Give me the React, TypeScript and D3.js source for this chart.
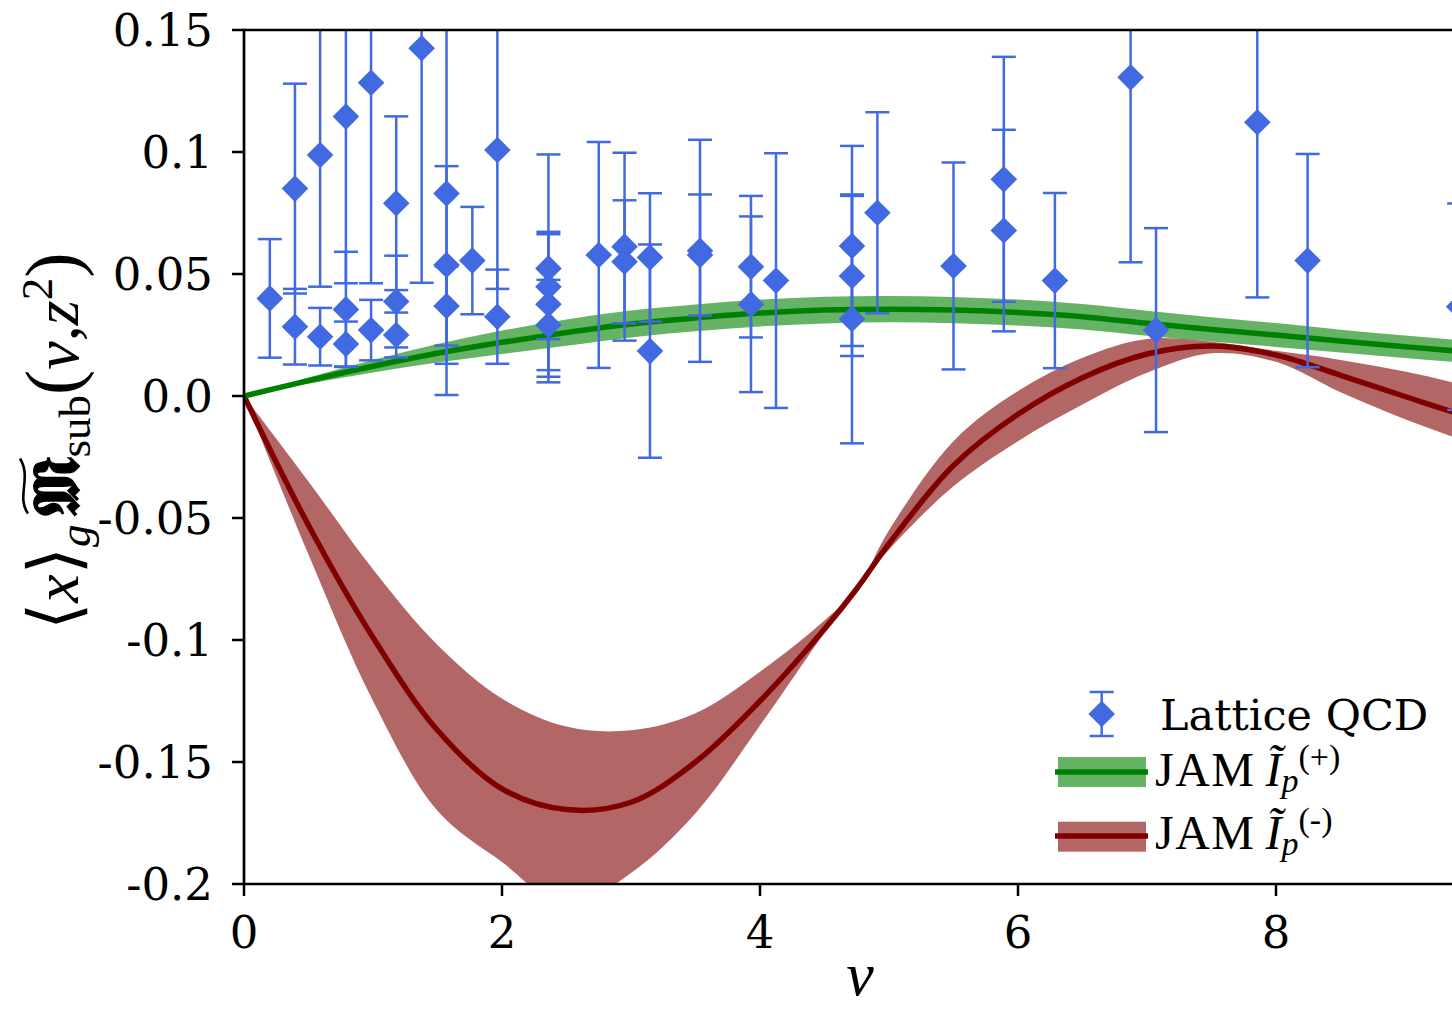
import React, { useLayoutEffect, useRef, useState } from 'react';
import * as d3 from 'd3';

// Lattice QCD points (nu, value, symmetric error)
const latNu = [0.2, 0.395, 0.395, 0.59, 0.59, 0.79, 0.79, 0.79, 0.985, 0.985, 1.18, 1.18, 1.18, 1.377, 1.57, 1.57, 1.57, 1.77, 1.964, 1.964, 2.36, 2.36, 2.36, 2.36, 2.75, 2.95, 2.95, 3.147, 3.147, 3.535, 3.535, 3.93, 3.93, 4.124, 4.713, 4.713, 4.713, 4.91, 5.5, 5.89, 5.89, 6.286, 6.873, 7.07, 7.855, 8.245, 9.42];
const latVal = [0.04, 0.085, 0.0284, 0.0988, 0.0243, 0.1145, 0.0355, 0.0213, 0.1284, 0.027, 0.079, 0.0387, 0.025, 0.1425, 0.083, 0.0537, 0.0369, 0.0555, 0.1008, 0.0325, 0.0523, 0.0448, 0.0376, 0.0291, 0.0578, 0.0612, 0.055, 0.0568, 0.0184, 0.0595, 0.0578, 0.053, 0.0376, 0.0473, 0.0615, 0.0492, 0.0316, 0.0751, 0.0533, 0.0888, 0.0678, 0.0473, 0.1306, 0.027, 0.1122, 0.0555, 0.0366];
const latErr = [0.0243, 0.043, 0.0155, 0.054, 0.0118, 0.0683, 0.0236, 0.0092, 0.0822, 0.0124, 0.0356, 0.0188, 0.0092, 0.0961, 0.0826, 0.0405, 0.0162, 0.022, 0.0569, 0.0193, 0.0467, 0.0215, 0.0297, 0.0185, 0.0463, 0.0385, 0.0252, 0.0263, 0.0437, 0.0455, 0.0248, 0.029, 0.036, 0.0522, 0.041, 0.0328, 0.051, 0.0412, 0.0424, 0.0502, 0.0413, 0.0359, 0.0758, 0.0418, 0.0718, 0.0437, 0.0423];

// JAM I_p^(+) (green)
const plusNu = [0, 0.5, 1, 1.5, 2, 2.5, 3, 3.5, 4, 4.5, 5, 5.5, 6, 6.5, 7, 7.5, 8, 8.5, 9, 9.5, 10];
const plusMid = [0, 0.0063, 0.0122, 0.0175, 0.022, 0.026, 0.0295, 0.032, 0.034, 0.0352, 0.0356, 0.0352, 0.0342, 0.0325, 0.0298, 0.0273, 0.025, 0.0225, 0.0202, 0.018, 0.016];
const plusLo = [0, 0.005, 0.0096, 0.0137, 0.0172, 0.0206, 0.024, 0.0265, 0.0285, 0.0297, 0.0302, 0.0298, 0.0289, 0.0273, 0.0247, 0.0223, 0.0201, 0.0178, 0.0156, 0.0135, 0.0116];
const plusHi = [0, 0.0076, 0.0148, 0.0213, 0.0268, 0.0314, 0.035, 0.0375, 0.0395, 0.0407, 0.041, 0.0406, 0.0395, 0.0377, 0.0349, 0.0323, 0.0299, 0.0272, 0.0248, 0.0225, 0.0204];

// JAM I_p^(-) (dark red)
const minusNu = [0, 0.5, 1, 1.5, 2, 2.5, 3, 3.5, 4, 4.5, 4.75, 5, 5.5, 6, 6.5, 7, 7.5, 8, 8.5, 9, 9.5, 10];
const minusMid = [0, -0.053, -0.099, -0.137, -0.161, -0.1695, -0.1665, -0.15, -0.125, -0.0955, -0.079, -0.0605, -0.0285, -0.0075, 0.0075, 0.0172, 0.0205, 0.0168, 0.0085, -0.0002, -0.0085, -0.015];
const minusHi = [0, -0.035, -0.071, -0.102, -0.124, -0.1355, -0.137, -0.13, -0.113, -0.092, -0.079, -0.055, -0.0185, 0.002, 0.0157, 0.0234, 0.0222, 0.0185, 0.0148, 0.01, 0.004, -0.002];
const minusLo = [0, -0.065, -0.125, -0.17, -0.191, -0.209, -0.1955, -0.171, -0.135, -0.097, -0.079, -0.063, -0.037, -0.0185, -0.0035, 0.0095, 0.0175, 0.014, 0.0015, -0.0095, -0.019, -0.027];

const xTicks = [0, 2, 4, 6, 8];
const xTickLabels = ['0', '2', '4', '6', '8'];
const yTicks = [0.15, 0.1, 0.05, 0, -0.05, -0.1, -0.15, -0.2];
const yTickLabels = ['0.15', '0.1', '0.05', '0.0', '-0.05', '-0.1', '-0.15', '-0.2'];

const BLUE = '#4169E1';
const GREEN = '#008000';
const RED = '#800000';
const SERIF = '"DejaVu Serif", serif';
const MATH = '"Liberation Serif", serif';

export default function App() {
  const W = 1452, H = 1009;
  const L = 244, T = 30, B = 884, R = 1534;
  const x = d3.scaleLinear().domain([0, 10]).range([L, R]);
  const y = d3.scaleLinear().domain([-0.2, 0.15]).range([B, T]);

  const labelRef = useRef<SVGTextElement>(null);
  const [tilde, setTilde] = useState<[number, number]>([121, 181]);
  useLayoutEffect(() => {
    const el = labelRef.current;
    if (!el) return;
    try {
      const s = el.getStartPositionOfChar(4).x;
      const e = el.getEndPositionOfChar(4).x;
      if (isFinite(s) && isFinite(e) && e > s) setTilde([s, e]);
    } catch (err) { /* keep default */ }
  }, []);

  const band = (nu: number[], lo: number[], hi: number[]) =>
    d3.area<number>().x(i => x(nu[i])).y0(i => y(lo[i])).y1(i => y(hi[i])).curve(d3.curveCatmullRom)(d3.range(nu.length)) || '';
  const line = (nu: number[], v: number[]) =>
    d3.line<number>().x(i => x(nu[i])).y(i => y(v[i])).curve(d3.curveCatmullRom)(d3.range(nu.length)) || '';

  const dia = 13.3;
  const capW = 12;
  const diamond = (cx: number, cy: number) => `M${cx},${cy - dia}L${cx + dia},${cy}L${cx},${cy + dia}L${cx - dia},${cy}Z`;

  const t0 = tilde[0] + 3, t1 = tilde[1] - 1, tw = t1 - t0;

  return (
    <svg width={W} height={H} style={{ position: 'absolute', left: 0, top: 0, background: '#fff' }}>
      <defs>
        <clipPath id="plotclip">
          <rect x={L} y={T} width={R - L} height={B - T} />
        </clipPath>
      </defs>
      <rect x={0} y={0} width={W} height={H} fill="#fff" />
      <g clipPath="url(#plotclip)">
        <path d={band(minusNu, minusLo, minusHi)} fill={RED} fillOpacity={0.6} />
        <path d={band(plusNu, plusLo, plusHi)} fill={GREEN} fillOpacity={0.6} />
        <path d={line(minusNu, minusMid)} fill="none" stroke={RED} strokeWidth={5.5} />
        <path d={line(plusNu, plusMid)} fill="none" stroke={GREEN} strokeWidth={5.5} />
        {latNu.map((n, i) => {
          const cx = x(n);
          const y1 = y(latVal[i] + latErr[i]);
          const y0 = y(latVal[i] - latErr[i]);
          return (
            <g key={i}>
              <line x1={cx} x2={cx} y1={y1} y2={y0} stroke={BLUE} strokeWidth={2.5} />
              <line x1={cx - capW} x2={cx + capW} y1={y1} y2={y1} stroke={BLUE} strokeWidth={2.5} />
              <line x1={cx - capW} x2={cx + capW} y1={y0} y2={y0} stroke={BLUE} strokeWidth={2.5} />
            </g>
          );
        })}
        {latNu.map((n, i) => (
          <path key={'d' + i} d={diamond(x(n), y(latVal[i]))} fill={BLUE} />
        ))}
      </g>

      {/* spines */}
      <line x1={L} x2={L} y1={T - 1.3} y2={B + 1.3} stroke="#000" strokeWidth={2.7} />
      <line x1={L} x2={W} y1={B} y2={B} stroke="#000" strokeWidth={2.7} />
      <line x1={L} x2={W} y1={T} y2={T} stroke="#000" strokeWidth={2.7} />

      {/* y ticks */}
      {yTicks.map((t, i) => (
        <g key={'yt' + i}>
          <line x1={L - 12} x2={L} y1={y(t)} y2={y(t)} stroke="#000" strokeWidth={2.5} />
          <text x={L - 31} y={y(t)} textAnchor="end" dominantBaseline="central" fontFamily={SERIF} fontSize={45}>{yTickLabels[i]}</text>
        </g>
      ))}
      {/* x ticks */}
      {xTicks.map((t, i) => (
        <g key={'xt' + i}>
          <line x1={x(t)} x2={x(t)} y1={B} y2={B + 12} stroke="#000" strokeWidth={2.5} />
          <text x={x(t)} y={948} textAnchor="middle" fontFamily={SERIF} fontSize={45}>{xTickLabels[i]}</text>
        </g>
      ))}

      {/* x label */}
      <text x={860} y={995} textAnchor="middle" fontFamily={MATH} fontStyle="italic" fontSize={62}>ν</text>

      {/* y label */}
      <g transform="translate(78,630) rotate(-90)">
        <text ref={labelRef} x={0} y={0} fontFamily={MATH} fontSize={64}>
          <tspan fontFamily={SERIF} fontSize={70}>⟨</tspan>
          <tspan fontStyle="italic">x</tspan>
          <tspan fontFamily={SERIF} fontSize={70}>⟩</tspan>
          <tspan fontStyle="italic" fontSize={45} dy={12}>g</tspan>
          <tspan dx={8} dy={-12} fontWeight="bold">𝕸</tspan>
          <tspan fontSize={45} dy={12}>sub</tspan>
          <tspan fontSize={76} dy={-12}>(</tspan>
          <tspan fontStyle="italic">ν</tspan>
          <tspan>,</tspan>
          <tspan fontStyle="italic">z</tspan>
          <tspan fontSize={45} dy={-26}>2</tspan>
          <tspan fontSize={76} dy={26}>)</tspan>
        </text>
        <path d={`M${t0},-50 C${t0 + tw * 0.3},-62 ${t0 + tw * 0.65},-46 ${t1},-58`} fill="none" stroke="#000" strokeWidth={2.6} />
      </g>

      {/* legend */}
      <g>
        <line x1={1101.7} x2={1101.7} y1={692} y2={736} stroke={BLUE} strokeWidth={2.5} />
        <line x1={1101.7 - capW} x2={1101.7 + capW} y1={692} y2={692} stroke={BLUE} strokeWidth={2.5} />
        <line x1={1101.7 - capW} x2={1101.7 + capW} y1={736} y2={736} stroke={BLUE} strokeWidth={2.5} />
        <path d={diamond(1101.7, 714)} fill={BLUE} />
        <text x={1160} y={730} fontFamily={SERIF} fontSize={43}>Lattice QCD</text>

        <rect x={1058} y={757} width={88} height={30} fill={GREEN} fillOpacity={0.6} />
        <line x1={1055} x2={1148} y1={772} y2={772} stroke={GREEN} strokeWidth={5.5} />
        <text x={1155} y={786} fontFamily={MATH} fontSize={48} letterSpacing={1.5}>
          JAM
          <tspan fontStyle="italic" dx={10} letterSpacing={0}>Ĩ</tspan>
          <tspan fontStyle="italic" fontSize={34} dy={6} letterSpacing={0}>p</tspan>
          <tspan fontSize={34} dy={-24} letterSpacing={0}>(+)</tspan>
        </text>

        <rect x={1058} y={821.7} width={88} height={30} fill={RED} fillOpacity={0.6} />
        <line x1={1055} x2={1148} y1={836} y2={836} stroke={RED} strokeWidth={5.5} />
        <text x={1155} y={849} fontFamily={MATH} fontSize={48} letterSpacing={1.5}>
          JAM
          <tspan fontStyle="italic" dx={10} letterSpacing={0}>Ĩ</tspan>
          <tspan fontStyle="italic" fontSize={34} dy={6} letterSpacing={0}>p</tspan>
          <tspan fontSize={34} dy={-24} letterSpacing={0}>(-)</tspan>
        </text>
      </g>
    </svg>
  );
}
